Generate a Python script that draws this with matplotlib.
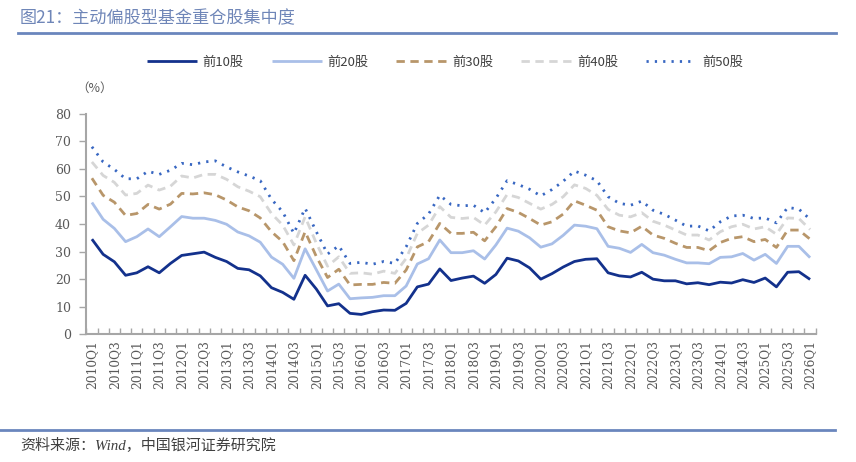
import matplotlib
matplotlib.use("Agg")
import matplotlib.pyplot as plt
import numpy as np

plt.rcParams['font.family'] = ['Noto Sans CJK SC', 'DejaVu Sans']

# ---------------- data ----------------
quarters = [f"{y}Q{q}" for y in range(2010, 2027) for q in range(1, 5)][:65]

top10 = [34.5, 29.0, 26.3, 21.4, 22.3, 24.5, 22.3, 25.7, 28.6, 29.2, 29.8, 27.9, 26.4, 23.9, 23.4, 21.2,
         16.9, 15.2, 12.7, 21.4, 16.4, 10.3, 11.1, 7.6, 7.2, 8.2, 8.8, 8.7, 11.2, 17.2, 18.2, 23.7,
         19.5, 20.4, 21.1, 18.5, 21.7, 27.6, 26.6, 24.1, 20.0, 22.0, 24.4, 26.4, 27.2, 27.4, 22.3, 21.2,
         20.8, 22.5, 20.0, 19.4, 19.4, 18.3, 18.7, 18.0, 18.9, 18.6, 19.8, 18.8, 20.4, 17.2, 22.5, 22.7, 19.9]
top20 = [47.8, 41.7, 38.4, 33.6, 35.4, 38.2, 35.4, 39.0, 42.7, 42.1, 42.1, 41.3, 39.9, 37.1, 35.7, 33.4,
         28.0, 25.4, 20.3, 31.0, 23.4, 15.7, 18.2, 12.9, 13.2, 13.4, 14.0, 14.0, 17.5, 25.5, 27.4, 34.2,
         29.6, 29.6, 30.3, 27.3, 32.4, 38.5, 37.4, 35.0, 31.6, 32.8, 35.9, 39.6, 39.2, 38.3, 31.9, 31.2,
         29.7, 32.6, 29.6, 28.7, 27.2, 25.9, 25.9, 25.6, 27.9, 28.1, 29.3, 26.9, 29.0, 25.7, 31.9, 31.9, 27.8]
top30 = [56.6, 50.4, 47.9, 43.1, 43.8, 47.1, 45.4, 47.2, 51.1, 50.9, 51.3, 50.6, 48.7, 46.2, 44.8, 42.2,
         37.2, 33.6, 26.7, 37.2, 28.2, 20.6, 23.6, 17.9, 18.1, 18.1, 18.8, 18.5, 23.3, 31.7, 33.6, 40.2,
         36.6, 36.6, 37.0, 33.9, 39.0, 45.6, 44.2, 42.0, 39.6, 40.8, 43.6, 48.4, 46.8, 45.0, 39.0, 37.5,
         36.8, 39.2, 36.0, 34.8, 33.0, 31.5, 31.5, 30.3, 33.3, 34.8, 35.4, 33.6, 34.4, 31.5, 37.8, 37.8, 34.5]
top40 = [62.5, 57.6, 55.1, 50.5, 51.1, 54.1, 52.3, 53.7, 57.4, 56.7, 58.0, 58.0, 56.2, 53.5, 51.9, 49.9,
         43.8, 39.6, 32.4, 42.6, 33.0, 24.7, 28.1, 22.1, 22.3, 21.8, 22.9, 22.1, 27.5, 36.6, 39.6, 46.3,
         42.4, 42.0, 42.4, 39.6, 44.4, 50.7, 49.6, 47.5, 45.4, 47.1, 49.9, 54.2, 52.9, 50.4, 45.3, 43.2,
         42.6, 44.1, 41.0, 39.6, 37.8, 36.0, 36.0, 34.2, 37.2, 39.0, 39.9, 38.2, 39.0, 36.3, 42.2, 42.0, 38.0]
top50 = [68.0, 62.5, 59.8, 56.4, 56.4, 59.1, 58.0, 59.5, 62.0, 61.5, 62.5, 62.9, 60.7, 58.9, 57.4, 55.7,
         49.0, 44.4, 36.6, 45.7, 37.2, 29.1, 32.1, 25.7, 26.1, 25.4, 26.4, 25.7, 31.7, 40.2, 43.6, 50.4,
         47.1, 46.6, 46.8, 44.1, 49.3, 55.7, 54.3, 52.6, 50.2, 52.5, 55.5, 59.2, 57.7, 55.7, 49.9, 47.5,
         46.8, 48.3, 45.0, 43.5, 41.4, 39.2, 39.3, 37.5, 40.8, 42.9, 43.2, 42.0, 42.2, 40.4, 46.0, 45.4, 41.7]

series_names = ["前10股", "前20股", "前30股", "前40股", "前50股"]
title_text = "图21：主动偏股型基金重仓股集中度"
source_text = "资料来源：Wind，中国银河证券研究院"

# ---------------- figure ----------------
W, H = 856, 462
fig = plt.figure(figsize=(W / 100, H / 100), dpi=100)
ax = fig.add_axes([86.3 / W, 1 - 334.3 / H, (815.7 - 86.3) / W, (334.3 - 113.7) / H])

x = np.arange(len(quarters))
styles = [
    dict(color="#13318c", lw=2.0, ls="-"),
    dict(color="#a9bfe8", lw=2.0, ls="-"),
    dict(color="#b8966a", lw=2.0, ls=(0, (3, 2))),
    dict(color="#d6d6d6", lw=2.0, ls=(0, (3, 2))),
    dict(color="#3867c2", lw=2.0, ls=(0, (0.8, 2.2))),
]
handles = []
for vals, name, st in zip([top10, top20, top30, top40, top50], series_names, styles):
    h, = ax.plot(x, vals, label=name, solid_capstyle="butt", dash_capstyle="butt", **st)
    handles.append(h)

ax.set_xlim(-0.5, len(quarters) - 0.5)
ax.set_ylim(0, 80)
ax.set_yticks(np.arange(0, 81, 10))

tick_col = "#595959"
ax.set_xticks(x[::2])
ax.set_xticklabels(quarters[::2], rotation=90, fontsize=8.8, color=tick_col,
                   family=['DejaVu Serif'])
ax.set_xticks(np.arange(-0.5, len(quarters), 1), minor=True)
ax.tick_params(axis="x", which="major", length=0, pad=4)
ax.tick_params(axis="x", which="minor", length=4, width=1, color="#a6a6a6", direction="in")
ax.tick_params(axis="y", length=5, width=1, color="#a6a6a6", labelsize=9, labelcolor=tick_col, pad=6)
for lbl in ax.get_yticklabels():
    lbl.set_family(['DejaVu Serif'])

for s in ["top", "right"]:
    ax.spines[s].set_visible(False)
for s in ["left", "bottom"]:
    ax.spines[s].set_color("#a6a6a6")
    ax.spines[s].set_linewidth(1.5)

# title and rules
fig.text(20 / W, 1 - 18 / H, title_text, fontsize=12.3, color="#6f86b8", va="center", ha="left")
fig.add_artist(plt.Line2D([18 / W, 836 / W], [1 - 33 / H, 1 - 33 / H], color="#6a86bd", lw=2))
fig.add_artist(plt.Line2D([0, 835 / W], [1 - 430 / H, 1 - 430 / H], color="#6a86bd", lw=2))
fig.text(20 / W, 1 - 446 / H, source_text, fontsize=10.8, color="#404040", va="center", ha="left",
         style="italic", family=['Liberation Serif', 'Noto Sans CJK SC'])

# unit label
fig.text(76 / W, 1 - 88 / H, "（%）", fontsize=9, color=tick_col, va="center", ha="left")

# legend
fig.legend(handles=handles, labels=series_names, loc="center", ncol=5,
           bbox_to_anchor=(445 / W, 1 - 62 / H), frameon=False, fontsize=9.5,
           handlelength=3.8, handletextpad=0.45, columnspacing=2.1,
           labelcolor="#404040")

fig.savefig("out.png", dpi=100)
